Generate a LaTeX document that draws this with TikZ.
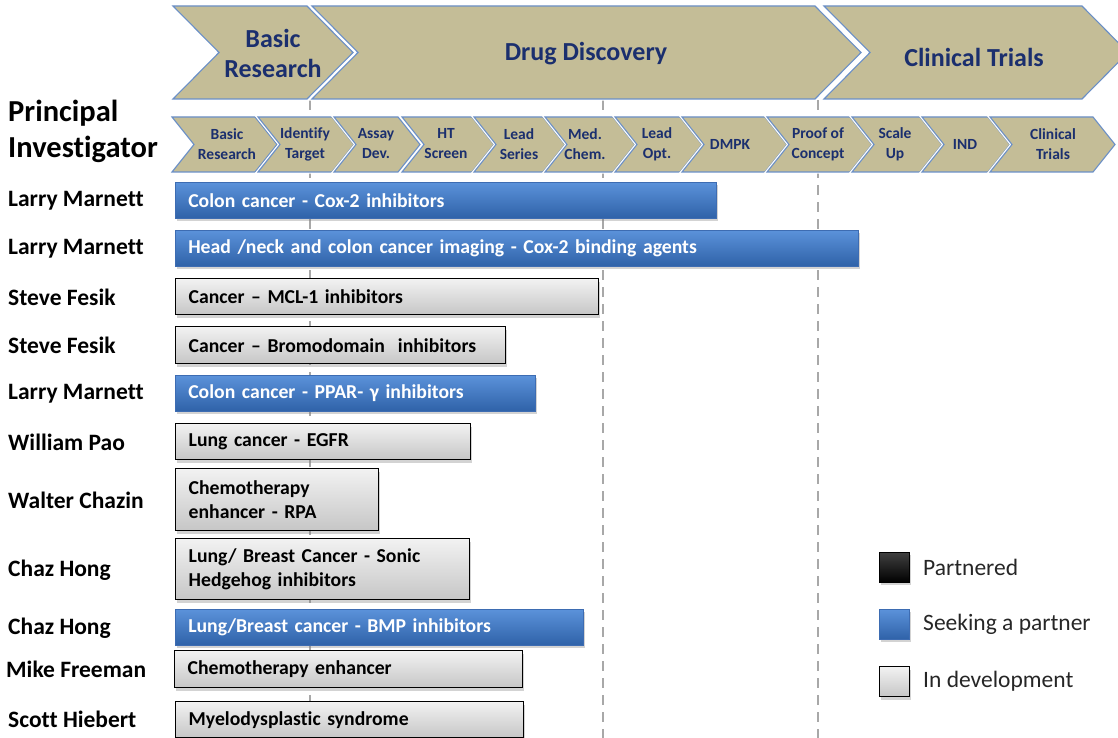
\documentclass[tikz,border=0pt]{standalone}
\usepackage{fontspec}
\setmainfont[Ligatures=NoCommon]{Carlito}
\usetikzlibrary{shadows}
\definecolor{khaki}{HTML}{C4BD97}
\definecolor{chevblue}{HTML}{6A8FC7}
\definecolor{navy}{HTML}{1B2F6E}
\definecolor{blueT}{HTML}{5B92DA}
\definecolor{blueB}{HTML}{2F62A8}
\definecolor{blueE}{HTML}{3D6CB2}
\definecolor{greyT}{HTML}{F2F2F2}
\definecolor{greyB}{HTML}{C6C6C6}
\definecolor{guidegrey}{HTML}{A8A8A8}
\definecolor{keyink}{HTML}{262626}

% chevron from left edge x0 to body end x1, rows ytop..ybot, point depth d
\newcommand\pchev[5]{%
  \path[chev] (#1,#3) -- (#2,#3) -- ({#2+#5},{(#3+#4)/2}) -- (#2,#4)
    -- (#1,#4) -- ({#1+#5},{(#3+#4)/2}) -- cycle;}

\begin{document}
\begin{tikzpicture}[x=1pt,y=-1pt,
  chev/.style={fill=khaki, draw=chevblue, line width=1.1pt, line join=miter,
    preaction={draw=white, line width=3.5pt}},
  bigtxt/.style={text=navy, font=\bfseries\fontsize{26}{30}\selectfont,
    align=center, inner sep=0pt},
  smalltxt/.style={text=navy, font=\bfseries\fontsize{15.5}{20}\selectfont,
    align=center, inner sep=0pt},
  heading/.style={anchor=west, align=left, inner sep=0pt,
    font=\bfseries\fontsize{30.5}{36}\selectfont},
  who/.style={anchor=west, inner sep=0pt, font=\bfseries\fontsize{23.5}{27}\selectfont},
  barw/.code={\pgfmathsetmacro\bw{#1}\pgfmathsetmacro\tw{#1-26}%
    \tikzset{minimum width=\bw pt, text width=\tw pt}},
  barbase/.style={anchor=north west, align=left, inner xsep=13pt, inner ysep=0pt,
    font=\bfseries\fontsize{19.7}{23.5}\selectfont,
    drop shadow={opacity=0.35, shadow xshift=1.5pt, shadow yshift=-3pt}},
  seek/.style={barbase, top color=blueT, bottom color=blueB, draw=blueE,
    line width=0.6pt, text=white},
  dev/.style={barbase, top color=greyT, bottom color=greyB, draw=black,
    line width=1.4pt, text=black},
  guide/.style={draw=guidegrey, line width=2.2pt, dash pattern=on 10pt off 7pt},
  key/.style={anchor=north west, minimum size=30pt, inner sep=0pt,
    drop shadow={opacity=0.35, shadow xshift=1.5pt, shadow yshift=-3pt}},
  keytext/.style={anchor=west, inner sep=0pt, text=keyink,
    font=\fontsize{23.5}{27}\selectfont}
]
\useasboundingbox (0,0) rectangle (1118,738);

% stage boundaries
\draw[guide] (310,100) -- (310,738);
\draw[guide] (603,100) -- (603,738);
\draw[guide] (818,100) -- (818,738);

% main phases
\pchev{173}{307}{6}{99}{46}
\pchev{312}{815}{6}{99}{46}
\pchev{824}{1082}{6}{99}{46}
\node[bigtxt] (ph1) at (273,53) {Basic\\Research};
\node[bigtxt] (ph2) at (586,54) {Drug Discovery};
\node[bigtxt] (ph3) at (974,57) {Clinical Trials};

% detailed steps
\pchev{172}{255}{117}{172}{22}
\pchev{258}{332}{117}{172}{22}
\pchev{334}{398}{117}{172}{22}
\pchev{402}{472}{117}{172}{22}
\pchev{474}{543}{117}{172}{22}
\pchev{545}{613}{117}{172}{22}
\pchev{615}{680}{117}{172}{22}
\pchev{682}{765}{117}{172}{22}
\pchev{767}{850}{117}{172}{22}
\pchev{852}{920}{117}{172}{22}
\pchev{922}{988}{117}{172}{22}
\pchev{990}{1093}{117}{172}{22}
\node[smalltxt] (s1) at (227,144) {Basic\\Research};
\node[smalltxt] (s2) at (305,144) {Identify\\Target};
\node[smalltxt] (s3) at (376,144) {Assay\\Dev.};
\node[smalltxt] (s4) at (446,144) {HT\\Screen};
\node[smalltxt] (s5) at (519,144) {Lead\\Series};
\node[smalltxt] (s6) at (585,144) {Med.\\Chem.};
\node[smalltxt] (s7) at (657,144) {Lead\\Opt.};
\node[smalltxt] (s8) at (730,144) {DMPK};
\node[smalltxt] (s9) at (818,144) {Proof of\\Concept};
\node[smalltxt] (s10) at (895,144) {Scale\\Up};
\node[smalltxt] (s11) at (965,144) {IND};
\node[smalltxt] (s12) at (1053,144) {Clinical\\Trials};

% investigators
\node[heading] (pi) at (8,131) {Principal\\Investigator};
\node[who] (n1) at (8,201) {Larry Marnett};
\node[who] (n2) at (8,249) {Larry Marnett};
\node[who] (n3) at (8,297) {Steve Fesik};
\node[who] (n4) at (8,345) {Steve Fesik};
\node[who] (n5) at (8,394) {Larry Marnett};
\node[who] (n6) at (8,442) {William Pao};
\node[who] (n7) at (8,500) {Walter Chazin};
\node[who] (n8) at (8,570) {Chaz Hong};
\node[who] (n9) at (8,628) {Chaz Hong};
\node[who] (n10) at (6,669) {Mike Freeman};
\node[who] (n11) at (8,719) {Scott Hiebert};

% programmes
\node[seek, barw=541, minimum height=36pt] (b1) at (175,182) {Colon cancer - Cox-2 inhibitors};
\node[seek, barw=683, minimum height=36pt] (b2) at (175,230) {Head /neck and colon cancer imaging - Cox-2 binding agents};
\node[dev, barw=423, minimum height=36pt] (b3) at (175,278) {Cancer -- MCL-1 inhibitors};
\node[dev, barw=330, minimum height=37pt] (b4) at (175,326) {Cancer -- Bromodomain~~inhibitors};
\node[seek, barw=360, minimum height=36pt] (b5) at (175,375) {Colon cancer - PPAR- γ inhibitors};
\node[dev, barw=295, minimum height=36pt] (b6) at (175,423) {Lung cancer - EGFR};
\node[dev, barw=203, minimum height=62pt] (b7) at (175,468) {Chemotherapy\\enhancer - RPA};
\node[dev, barw=294, minimum height=61pt] (b8) at (175,538) {Lung/ Breast Cancer - Sonic\\Hedgehog inhibitors};
\node[seek, barw=408, minimum height=36pt] (b9) at (175,609) {Lung/Breast cancer - BMP inhibitors};
\node[dev, barw=348, minimum height=37pt] (b10) at (174,650) {Chemotherapy enhancer};
\node[dev, barw=348, minimum height=36pt] (b11) at (175,701) {Myelodysplastic syndrome};

% legend
\node[key, top color=black!75, bottom color=black, draw=black, line width=0.8pt] (k1) at (879,552) {};
\node[key, top color=blueT, bottom color=blueB, draw=blueE, line width=0.6pt] (k2) at (879,609) {};
\node[key, top color=greyT, bottom color=greyB, draw=black, line width=1.4pt] (k3) at (879,666) {};
\node[keytext] (t1) at (923,567) {Partnered};
\node[keytext] (t2) at (923,624) {Seeking a partner};
\node[keytext] (t3) at (923,681) {In development};
\end{tikzpicture}
\end{document}
